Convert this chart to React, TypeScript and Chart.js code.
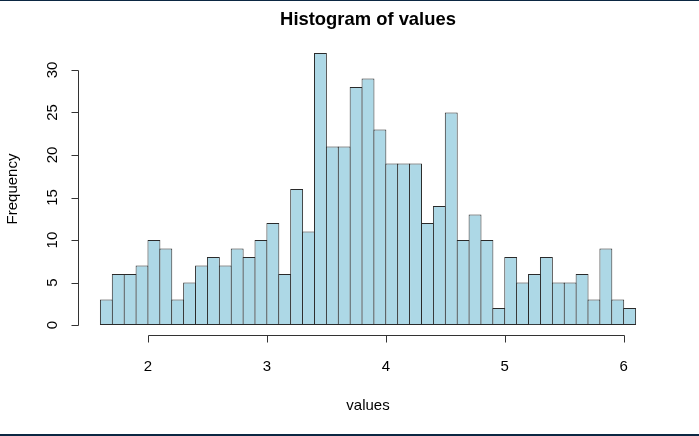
import React, { useEffect, useRef } from "react";
import { Chart, registerables } from "chart.js";

Chart.register(...registerables);

const binStarts = [
  1.6, 1.7, 1.8, 1.9, 2.0, 2.1, 2.2, 2.3, 2.4, 2.5, 2.6, 2.7, 2.8, 2.9, 3.0,
  3.1, 3.2, 3.3, 3.4, 3.5, 3.6, 3.7, 3.8, 3.9, 4.0, 4.1, 4.2, 4.3, 4.4, 4.5,
  4.6, 4.7, 4.8, 4.9, 5.0, 5.1, 5.2, 5.3, 5.4, 5.5, 5.6, 5.7, 5.8, 5.9, 6.0,
];
const binWidth = 0.1;
const counts = [
  3, 6, 6, 7, 10, 9, 3, 5, 7, 8, 7, 9, 8, 10, 12,
  6, 16, 11, 32, 21, 21, 28, 29, 23, 19, 19, 19, 12, 14, 25,
  10, 13, 10, 2, 8, 5, 6, 8, 5, 5, 6, 3, 9, 3, 2,
];
const xTicks = [2, 3, 4, 5, 6];
const yTicks = [0, 5, 10, 15, 20, 25, 30];
const titleText = "Histogram of values";
const xLabel = "values";
const yLabel = "Frequency";

const W = 699;
const H = 436;
const FONT = "'Liberation Sans', Arial, sans-serif";

export default function App() {
  const ref = useRef<HTMLCanvasElement | null>(null);
  useEffect(() => {
    document.body.style.margin = "0";
    const canvas = ref.current!;
    const lo = binStarts[0];
    const hi = binStarts[binStarts.length - 1] + binWidth;
    const xPad = (hi - lo) * 0.04;
    const yMax = Math.max(...counts);
    const yPad = yMax * 0.04;
    const padL = 79;
    const padR = 42;
    const binPx = ((W - padL - padR) / (hi - lo + 2 * xPad)) * binWidth;
    const barPct = (binPx + 1) / binPx;

    const rAxes = {
      id: "rAxes",
      afterDraw(chart: any) {
        const c = chart.ctx as CanvasRenderingContext2D;
        const xs = chart.scales.x;
        const ys = chart.scales.y;
        const area = chart.chartArea;
        c.save();
        c.fillStyle = "#0b2742";
        c.fillRect(0, 0, W, 1);
        c.fillRect(0, H - 2, W, 2);

        c.strokeStyle = "#333";
        c.lineWidth = 1;
        c.fillStyle = "#000";
        // y axis
        const ax = Math.round(area.left) - 0.5;
        const yTop = Math.round(ys.getPixelForValue(yTicks[yTicks.length - 1])) + 0.5;
        const yBot = Math.round(ys.getPixelForValue(yTicks[0])) + 0.5;
        c.beginPath();
        c.moveTo(ax, yTop);
        c.lineTo(ax, yBot);
        for (const t of yTicks) {
          const py = Math.round(ys.getPixelForValue(t)) + 0.5;
          c.moveTo(ax, py);
          c.lineTo(ax - 7, py);
        }
        c.stroke();
        c.font = `15px ${FONT}`;
        c.textAlign = "center";
        c.textBaseline = "middle";
        for (const t of yTicks) {
          const py = ys.getPixelForValue(t);
          c.save();
          c.translate(ax - 26, py);
          c.rotate(-Math.PI / 2);
          c.fillText(String(t), 0, 0);
          c.restore();
        }
        // x axis
        const ay = Math.round(area.bottom) - 0.5;
        const xL = Math.round(xs.getPixelForValue(xTicks[0])) + 0.5;
        const xR = Math.round(xs.getPixelForValue(xTicks[xTicks.length - 1])) + 0.5;
        c.beginPath();
        c.moveTo(xL, ay);
        c.lineTo(xR, ay);
        for (const t of xTicks) {
          const px = Math.round(xs.getPixelForValue(t)) + 0.5;
          c.moveTo(px, ay);
          c.lineTo(px, ay + 7);
        }
        c.stroke();
        for (const t of xTicks) {
          c.fillText(String(t), xs.getPixelForValue(t), ay + 31);
        }
        c.fillText(xLabel, (area.left + area.right) / 2, ay + 70);
        c.save();
        c.translate(13, (area.top + area.bottom) / 2);
        c.rotate(-Math.PI / 2);
        c.fillText(yLabel, 0, 0);
        c.restore();
        c.font = `bold 18.4px ${FONT}`;
        c.fillText(titleText, (area.left + area.right) / 2, 20);
        c.restore();
      },
    };

    const chart = new Chart(canvas, {
      type: "bar",
      data: {
        datasets: [
          {
            data: counts.map((v, i) => ({ x: binStarts[i] + binWidth / 2, y: v })),
            backgroundColor: "#ADD8E6",
            borderColor: "#2a2a2a",
            borderWidth: 1,
            borderSkipped: false,
            inflateAmount: 0,
            barPercentage: barPct,
            categoryPercentage: 1,
          } as any,
        ],
      },
      options: {
        animation: false,
        responsive: false,
        maintainAspectRatio: false,
        layout: { padding: { left: padL, right: padR, top: 42, bottom: 100 } },
        plugins: { legend: { display: false }, tooltip: { enabled: false }, title: { display: false } },
        scales: {
          x: { type: "linear", min: lo - xPad, max: hi + xPad, offset: false, display: false },
          y: { type: "linear", min: -yPad, max: yMax + yPad, display: false },
        },
      },
      plugins: [rAxes],
    });
    return () => chart.destroy();
  }, []);
  return (
    <div style={{ width: W, height: H }}>
      <canvas ref={ref} width={W} height={H} style={{ display: "block", width: W, height: H }} />
    </div>
  );
}
